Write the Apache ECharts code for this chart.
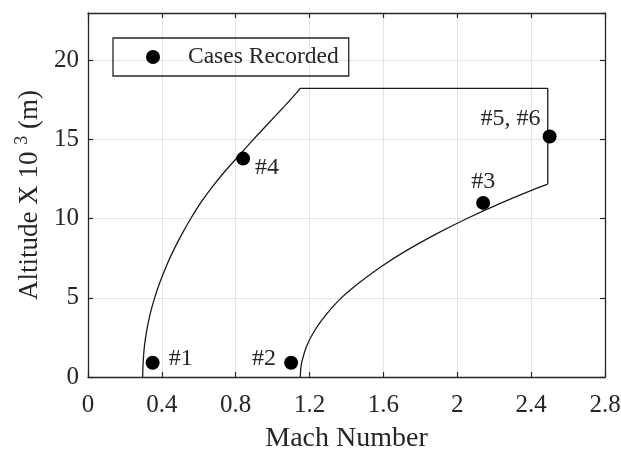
<!DOCTYPE html>
<html>
<head>
<meta charset="utf-8">
<script src="https://cdn.jsdelivr.net/npm/echarts@6/dist/echarts.min.js"></script>
<style>html,body{margin:0;padding:0;background:#fff}#chart{width:621px;height:452px}</style>
</head>
<body>
<div id="chart"></div>
<script>
// Recorded cases
var caseMach = [0.35, 1.10, 2.14, 0.84, 2.50];
var caseAlt = [0.9, 0.9, 11.0, 13.8, 15.2];
var caseLabels = ['#1', '#2', '#3', '#4', '#5, #6'];

// Flight envelope boundary (left branch, top/right edges, right branch)
var leftMach = [0.296, 0.299, 0.306, 0.319, 0.337, 0.361, 0.390, 0.424, 0.463, 0.507, 0.556, 0.610, 0.672, 0.742, 0.818, 0.895, 0.975, 1.055, 1.133, 1.148];
var leftAlt  = [0, 1, 2, 3, 4, 5, 6, 7, 8, 9, 10, 11, 12, 13, 14, 15, 16, 17, 18, 18.24];
var topMach  = [1.148, 2.49, 2.49];
var topAlt   = [18.24, 18.24, 12.19];
var rightMach = [2.49, 2.446, 2.239, 2.050, 1.879, 1.726, 1.591, 1.474, 1.372, 1.294, 1.231, 1.186, 1.159, 1.152, 1.150];
var rightAlt  = [12.19, 12, 11, 10, 9, 8, 7, 6, 5, 4, 3, 2, 1, 0.5, 0];

var xTicks = {min: 0, max: 2.8, interval: 0.4};
var yTicks = {min: 0, max: 23, interval: 5};

var FONT = 'Liberation Serif, Times New Roman, serif';
var TXT = '#262626';
var AX = '#262626';
var GRID = '#e4e4e4';

function pairs(xs, ys) { return xs.map(function (x, i) { return [x, ys[i]]; }); }

var labelCfg = [
  {position: 'right', distance: 9, offset: [0, -4]},
  {position: 'left', distance: 8, offset: [0, -4]},
  {position: 'top', distance: 2, offset: [0, 0]},
  {position: 'right', distance: 5, offset: [0, 9]},
  {position: 'left', distance: 2, offset: [0, -18]}
];

var caseData = caseMach.map(function (m, i) {
  return {
    value: [m, caseAlt[i]],
    label: Object.assign({show: true, formatter: caseLabels[i]}, labelCfg[i])
  };
});

var chart = echarts.init(document.getElementById('chart'), null, {renderer: 'canvas'});

var lineStyle = {color: '#1a1a1a', width: 1.3};

var option = {
  animation: false,
  backgroundColor: '#ffffff',
  textStyle: {fontFamily: FONT, color: TXT},
  grid: {left: 88, right: 16, top: 13, bottom: 75, containLabel: false, outerBoundsMode: 'none'},
  legend: {
    left: 113, top: 38,
    data: ['Cases Recorded'],
    icon: 'circle',
    itemWidth: 60, itemHeight: 14, itemGap: 0,
    padding: [7, 10, 7, 33],
    borderColor: AX, borderWidth: 1.3,
    itemStyle: {opacity: 1, color: '#000000'},
    textStyle: {fontFamily: FONT, fontSize: 23.5, color: TXT}
  },
  xAxis: [{
    type: 'value', min: xTicks.min, max: xTicks.max, interval: xTicks.interval,
    name: 'Mach Number', nameLocation: 'middle', nameGap: 48,
    nameTextStyle: {fontFamily: FONT, fontSize: 28, color: TXT},
    axisLine: {show: true, onZero: false, lineStyle: {color: AX, width: 1.3}},
    axisTick: {show: true, inside: true, length: 5, lineStyle: {color: AX, width: 1.2}},
    axisLabel: {fontFamily: FONT, fontSize: 25, color: TXT, margin: 16,
      formatter: function (v) { return String(+v.toFixed(1)); }},
    splitLine: {show: true, lineStyle: {color: GRID, width: 1}}
  }, {
    type: 'value', position: 'top', min: xTicks.min, max: xTicks.max, interval: xTicks.interval,
    axisLine: {show: true, onZero: false, lineStyle: {color: AX, width: 1.3}},
    axisTick: {show: true, inside: true, length: 5, lineStyle: {color: AX, width: 1.2}},
    axisLabel: {show: false}, splitLine: {show: false}
  }],
  yAxis: [{
    type: 'value', min: yTicks.min, max: yTicks.max, interval: yTicks.interval,
    name: '{a|Altitude X 10 }{s|3}{a| (m)}', nameLocation: 'middle', nameGap: 44, nameRotate: 90,
    nameTextStyle: {
      fontFamily: FONT, fontSize: 27, color: TXT,
      rich: {
        a: {fontFamily: FONT, fontSize: 27, color: TXT, lineHeight: 30, verticalAlign: 'bottom'},
        s: {fontFamily: FONT, fontSize: 18, color: TXT, lineHeight: 30, verticalAlign: 'top'}
      }
    },
    axisLine: {show: true, onZero: false, lineStyle: {color: AX, width: 1.3}},
    axisTick: {show: true, inside: true, length: 5, lineStyle: {color: AX, width: 1.2}},
    axisLabel: {fontFamily: FONT, fontSize: 25, color: TXT, margin: 9, showMaxLabel: false},
    splitLine: {show: true, lineStyle: {color: GRID, width: 1}}
  }, {
    type: 'value', position: 'right', min: yTicks.min, max: yTicks.max, interval: yTicks.interval,
    axisLine: {show: true, onZero: false, lineStyle: {color: AX, width: 1.3}},
    axisTick: {show: true, inside: true, length: 5, lineStyle: {color: AX, width: 1.2}},
    axisLabel: {show: false}, splitLine: {show: false}
  }],
  series: [{
    type: 'line', name: 'envelope-left', data: pairs(leftMach, leftAlt),
    smooth: 0.3, showSymbol: false, symbol: 'none', lineStyle: lineStyle, z: 2, silent: true
  }, {
    type: 'line', name: 'envelope-top', data: pairs(topMach, topAlt),
    smooth: false, showSymbol: false, symbol: 'none', lineStyle: lineStyle, z: 2, silent: true
  }, {
    type: 'line', name: 'envelope-right', data: pairs(rightMach, rightAlt),
    smooth: 0.3, showSymbol: false, symbol: 'none', lineStyle: lineStyle, z: 2, silent: true
  }, {
    type: 'scatter', name: 'Cases Recorded', data: caseData,
    symbol: 'circle', symbolSize: 14,
    itemStyle: {color: '#000000', opacity: 1},
    label: {fontFamily: FONT, fontSize: 24, color: TXT},
    z: 3
  }]
};

chart.setOption(option);
</script>
</body>
</html>
